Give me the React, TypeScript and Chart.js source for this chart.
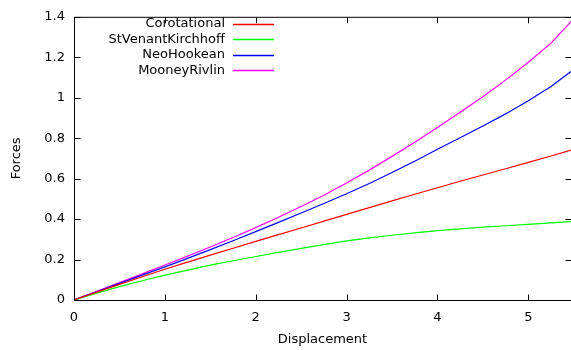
import React, { useEffect, useRef } from 'react';
import { Chart, registerables } from 'chart.js';

Chart.register(...registerables);

const displacement = [0, 0.25, 0.5, 0.75, 1, 1.25, 1.5, 1.75, 2, 2.25, 2.5, 2.75, 3, 3.25, 3.5, 3.75, 4, 4.25, 4.5, 4.75, 5, 5.25, 5.5];
const corotational = [0, 0.039, 0.077, 0.115, 0.152, 0.187, 0.222, 0.256, 0.29, 0.323, 0.356, 0.39, 0.423, 0.457, 0.49, 0.523, 0.555, 0.587, 0.618, 0.649, 0.68, 0.712, 0.745];
const stVenantKirchhoff = [0, 0.034, 0.066, 0.095, 0.123, 0.148, 0.172, 0.194, 0.215, 0.235, 0.255, 0.274, 0.292, 0.307, 0.32, 0.332, 0.343, 0.352, 0.36, 0.367, 0.374, 0.381, 0.388];
const neoHookean = [0, 0.041, 0.082, 0.123, 0.164, 0.206, 0.249, 0.293, 0.338, 0.384, 0.43, 0.477, 0.525, 0.576, 0.63, 0.686, 0.745, 0.802, 0.86, 0.92, 0.985, 1.055, 1.14];
const mooneyRivlin = [0, 0.043, 0.086, 0.129, 0.173, 0.217, 0.262, 0.309, 0.358, 0.409, 0.462, 0.518, 0.578, 0.642, 0.71, 0.78, 0.853, 0.928, 1.005, 1.087, 1.175, 1.27, 1.39];

const seriesLabels = ['Corotational', 'StVenantKirchhoff', 'NeoHookean', 'MooneyRivlin'];
const seriesColors = ['#ff0000', '#00ff00', '#0000ff', '#ff00ff'];
const seriesValues = [corotational, stVenantKirchhoff, neoHookean, mooneyRivlin];

const xTicks = [0, 1, 2, 3, 4, 5];
const yTicks = [0, 0.2, 0.4, 0.6, 0.8, 1, 1.2, 1.4];
const xMin = 0;
const xMax = 5.47;
const yMin = 0;
const yMax = 1.4;

const FONT = '"DejaVu Sans", sans-serif';
const FONT_SIZE = 13;

const gnuplotFrame = {
  id: 'gnuplotFrame',
  afterDraw(chart: any) {
    const { ctx, chartArea, scales } = chart;
    const { left, right, top, bottom } = chartArea;
    const xs = scales.x;
    const ys = scales.y;
    ctx.save();
    ctx.strokeStyle = '#000';
    ctx.lineWidth = 1;
    ctx.beginPath();
    ctx.rect(left + 0.5, top + 0.5, right - left, bottom - top);
    ctx.stroke();
    const tl = 6;
    ctx.beginPath();
    xTicks.forEach((v) => {
      const px = Math.round(xs.getPixelForValue(v)) + 0.5;
      ctx.moveTo(px, bottom + 0.5);
      ctx.lineTo(px, bottom + 0.5 - tl);
      ctx.moveTo(px, top + 0.5);
      ctx.lineTo(px, top + 0.5 + tl);
    });
    yTicks.forEach((v) => {
      const py = Math.round(ys.getPixelForValue(v)) + 0.5;
      ctx.moveTo(left + 0.5, py);
      ctx.lineTo(left + 0.5 + tl, py);
      ctx.moveTo(right + 0.5, py);
      ctx.lineTo(right + 0.5 - tl, py);
    });
    ctx.stroke();

    // key
    ctx.font = FONT_SIZE + 'px ' + FONT;
    ctx.textAlign = 'right';
    ctx.textBaseline = 'middle';
    chart.data.datasets.forEach((ds: any, i: number) => {
      const yy = 24 + i * 15.4;
      ctx.fillStyle = '#000';
      ctx.fillText(ds.label, 225, yy);
      ctx.strokeStyle = ds.borderColor;
      ctx.lineWidth = 1.3;
      ctx.beginPath();
      const ly = Math.round(yy) + 0.5;
      ctx.moveTo(233, ly);
      ctx.lineTo(274, ly);
      ctx.stroke();
    });
    ctx.restore();
  },
};

export default function App() {
  const canvasRef = useRef<HTMLCanvasElement | null>(null);

  useEffect(() => {
    document.body.style.margin = '0';
    const canvas = canvasRef.current;
    if (!canvas) return;
    const chart = new Chart(canvas, {
      type: 'line',
      data: {
        datasets: seriesLabels.map((label, i) => ({
          label,
          data: displacement.map((x, j) => ({ x, y: seriesValues[i][j] })),
          borderColor: seriesColors[i],
          backgroundColor: seriesColors[i],
          borderWidth: 1.2,
          pointRadius: 0,
          tension: 0,
          fill: false,
        })),
      },
      options: {
        responsive: false,
        animation: false,
        events: [],
        layout: { padding: { left: 0, right: 0, top: 11, bottom: 0 } },
        plugins: {
          legend: { display: false },
          tooltip: { enabled: false },
        },
        scales: {
          x: {
            type: 'linear',
            min: xMin,
            max: xMax,
            grid: { display: false, drawTicks: false },
            border: { display: false },
            afterBuildTicks: (scale: any) => {
              scale.ticks = xTicks.map((v) => ({ value: v }));
            },
            afterFit: (scale: any) => {
              scale.height = 50;
            },
            ticks: {
              padding: 10,
              color: '#000',
              font: { family: FONT, size: FONT_SIZE },
              maxRotation: 0,
              callback: (v: any) => String(v),
            },
            title: {
              display: true,
              text: 'Displacement',
              color: '#000',
              font: { family: FONT, size: FONT_SIZE },
              padding: { top: 0, bottom: 3 },
            },
          },
          y: {
            type: 'linear',
            min: yMin,
            max: yMax,
            grid: { display: false, drawTicks: false },
            border: { display: false },
            afterBuildTicks: (scale: any) => {
              scale.ticks = yTicks.map((v) => ({ value: v }));
            },
            afterFit: (scale: any) => {
              scale.width = 74;
            },
            ticks: {
              padding: 9,
              color: '#000',
              font: { family: FONT, size: FONT_SIZE },
              callback: (v: any) => String(Math.round(v * 10) / 10),
            },
            title: {
              display: true,
              text: 'Forces',
              color: '#000',
              font: { family: FONT, size: FONT_SIZE },
              padding: { top: 9, bottom: 0 },
            },
          },
        },
      },
      plugins: [gnuplotFrame],
    });
    return () => chart.destroy();
  }, []);

  return (
    <div style={{ position: 'absolute', left: 0, top: 0, width: 571, height: 350 }}>
      <canvas ref={canvasRef} width={571} height={350} style={{ display: 'block' }} />
    </div>
  );
}
